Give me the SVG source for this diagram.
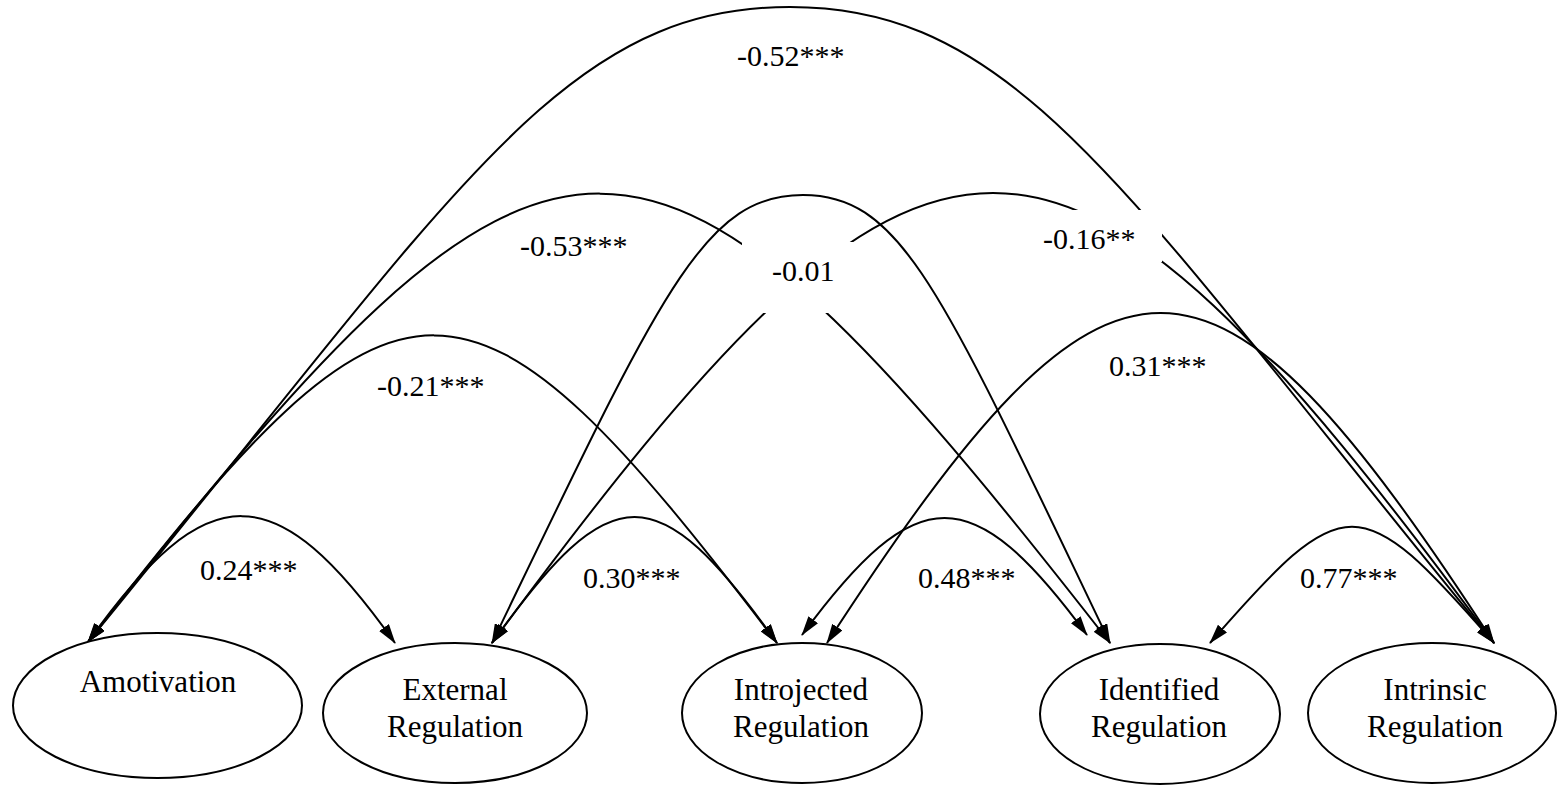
<svg xmlns="http://www.w3.org/2000/svg" width="1557" height="786" viewBox="0 0 1557 786">
<style>
  .node ellipse { fill: #ffffff; stroke: #000000; stroke-width: 2; }
  .node text { font-family: "Liberation Serif", "Times New Roman", serif; font-size: 31px; fill: #000000; text-anchor: middle; }
  .conn path { fill: none; stroke: #000000; stroke-width: 2; marker-start: url(#ah); marker-end: url(#ah); }
  .lbl text { font-family: "Liberation Serif", "Times New Roman", serif; font-size: 30px; fill: #000000; }
</style>
<defs>
  <marker id="ah" viewBox="0 0 20 12" refX="19" refY="6" markerWidth="20" markerHeight="12" markerUnits="userSpaceOnUse" orient="auto-start-reverse">
    <path d="M0,0 L20,6 L0,12 z" fill="#000000"/>
  </marker>
  <mask id="gaps" maskUnits="userSpaceOnUse" x="0" y="0" width="1557" height="786">
    <rect x="0" y="0" width="1557" height="786" fill="#ffffff"/>
    <rect x="742" y="242" width="114" height="71" fill="#000000"/>
    <rect x="1073" y="210" width="89" height="52" fill="#000000"/>
  </mask>
</defs>
<rect x="0" y="0" width="1557" height="786" fill="#ffffff"/>

<g id="connectors" class="conn" mask="url(#gaps)">
  <path id="c-amot-intr" d="M88,642 C457,192 560,7 790,7 C1020,7 1125,193 1494,643"/>
  <path id="c-amot-iden" d="M88,642 C557,44 643,44 1110,643"/>
  <path id="c-amot-intro" d="M88,642 C403,233 466,233 777,643"/>
  <path id="c-amot-ext" d="M88,642 C208,474 275,474 395,643"/>
  <path id="c-ext-intr" d="M492,643 C933,43 1053,43 1494,643"/>
  <path id="c-ext-iden" d="M492,643 C661,293 703,195 803,195 C903,195 942,293 1110,643"/>
  <path id="c-ext-intro" d="M492,643 C612,475 657,475 777,643"/>
  <path id="c-intro-iden" d="M802,635 C917,479 972,479 1087,635"/>
  <path id="c-intro-intr" d="M827,643 C1112,203 1209,203 1494,643"/>
  <path id="c-iden-intr" d="M1210,643 C1345,488 1359,488 1494,643"/>
</g>

<g id="labels" class="lbl">
  <text x="737" y="66">-0.52***</text>
  <text x="520" y="256">-0.53***</text>
  <text x="772" y="281">-0.01</text>
  <text x="1043" y="249">-0.16**</text>
  <text x="377" y="396">-0.21***</text>
  <text x="1109" y="376">0.31***</text>
  <text x="200" y="580">0.24***</text>
  <text x="583" y="588">0.30***</text>
  <text x="918" y="588">0.48***</text>
  <text x="1300" y="588">0.77***</text>
</g>

<g id="node-amotivation" class="node">
  <ellipse cx="157.5" cy="705.5" rx="144.5" ry="72.5"/>
  <text x="158" y="692">Amotivation</text>
</g>
<g id="node-external" class="node">
  <ellipse cx="455" cy="713" rx="132" ry="70"/>
  <text x="455" y="700">External</text>
  <text x="455" y="737">Regulation</text>
</g>
<g id="node-introjected" class="node">
  <ellipse cx="802" cy="713" rx="120" ry="70"/>
  <text x="801" y="700">Introjected</text>
  <text x="801" y="737">Regulation</text>
</g>
<g id="node-identified" class="node">
  <ellipse cx="1160" cy="714" rx="120" ry="70"/>
  <text x="1159" y="700">Identified</text>
  <text x="1159" y="737">Regulation</text>
</g>
<g id="node-intrinsic" class="node">
  <ellipse cx="1432" cy="713" rx="124" ry="70"/>
  <text x="1435" y="700">Intrinsic</text>
  <text x="1435" y="737">Regulation</text>
</g>
</svg>
